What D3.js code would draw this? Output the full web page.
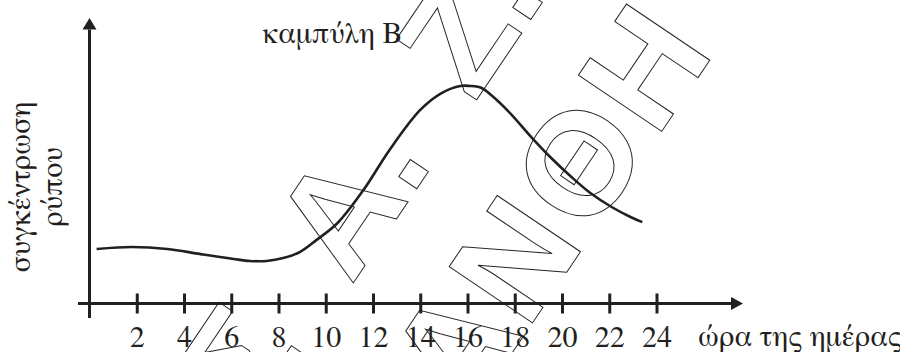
<!DOCTYPE html>
<html>
<head>
<meta charset="utf-8">
<script src="https://cdn.jsdelivr.net/npm/d3@7"></script>
<style>
    body { margin: 0; background: #fff; }
    svg { display: block; }
    .serif { font-family: FreeSerif, "Liberation Serif", "Times New Roman", serif; }
</style>
</head>
<body>
<svg id="chart"></svg>
<script>
const hours = [0.3, 1.8, 3.3, 4.7, 6.1, 6.8, 7.5, 8.2, 8.9, 9.6, 10.5, 11.6, 12.7, 14.0, 14.9, 15.7, 16.1, 16.6, 17.0, 17.8, 18.7, 19.5, 20.4, 21.2, 22.1, 22.9, 23.4];
const values = [1.91, 1.98, 1.91, 1.73, 1.56, 1.49, 1.49, 1.59, 1.80, 2.22, 2.82, 3.98, 5.38, 6.78, 7.37, 7.62, 7.62, 7.55, 7.30, 6.67, 5.83, 5.13, 4.43, 3.87, 3.38, 3.03, 2.85];
const tickHours = [2, 4, 6, 8, 10, 12, 14, 16, 18, 20, 22, 24];

const titleText = "καμπύλη Β";
const xLabel = "ώρα της ημέρας";
const yLabel = ["συγκέντρωση", "ρύπου"];

// watermark letters: [glyph, position along the line]
const markLine1 = [["Σ", -163], ["Α", 12], [".", 87], ["Ζ", 224], [".", 291]];
const markLine2 = [["Α", -35], ["Ν", 73], ["Θ", 189], ["Η", 304]];

const width = 900,
    height = 352;
const ink = "#231f20";

const svg = d3.select("#chart")
    .attr("width", width)
    .attr("height", height);

const x = d3.scaleLinear().domain([0, 24]).range([89.5, 656.5]);
const y = d3.scaleLinear().domain([0, 10]).range([303.5, 18]);

const data = hours.map((h, i) => ({hour: h, value: values[i]}));

//curve
const line = d3.line()
    .curve(d3.curveCatmullRom.alpha(0.5))
    .x(d => x(d.hour))
    .y(d => y(d.value));

svg.append("path")
    .datum(data)
    .attr("fill", "none")
    .attr("stroke", ink)
    .attr("stroke-width", 2.6)
    .attr("d", line);

//x axis with ticks crossing the line
const xAxis = svg.append("g")
    .attr("transform", "translate(0," + y(0) + ")")
    .call(d3.axisBottom(x).tickValues(tickHours).tickFormat(d => d).tickSize(10))
    .attr("font-family", null)
    .attr("font-size", null);

xAxis.select(".domain").remove();
xAxis.selectAll(".tick line")
    .attr("y1", -10)
    .attr("y2", 10)
    .attr("stroke", ink)
    .attr("stroke-width", 3);
xAxis.selectAll(".tick text")
    .attr("class", "serif")
    .attr("y", 43)
    .attr("dy", null)
    .attr("fill", ink)
    .style("font-size", "30px");

svg.append("line")
    .attr("x1", 78).attr("x2", 733)
    .attr("y1", y(0)).attr("y2", y(0))
    .attr("stroke", ink)
    .attr("stroke-width", 3);

svg.append("path")
    .attr("d", `M${743},${y(0)} L${731},${y(0) - 6.5} L${731},${y(0) + 6.5} Z`)
    .attr("fill", ink);

//y axis, no ticks
svg.append("line")
    .attr("x1", x(0)).attr("x2", x(0))
    .attr("y1", 318).attr("y2", y(9.6))
    .attr("stroke", ink)
    .attr("stroke-width", 3);

svg.append("path")
    .attr("d", `M${x(0)},${y(10)} L${x(0) - 7},${y(10) + 11.5} L${x(0) + 7},${y(10) + 11.5} Z`)
    .attr("fill", ink);

//texts
svg.append("text")
    .attr("class", "serif")
    .attr("x", 262)
    .attr("y", 43)
    .attr("fill", ink)
    .style("font-size", "30px")
    .text(titleText);

svg.append("text")
    .attr("class", "serif")
    .attr("x", 698)
    .attr("y", 346)
    .attr("fill", ink)
    .style("font-size", "30px")
    .text(xLabel);

svg.append("g")
    .selectAll("text")
    .data(yLabel)
    .join("text")
    .attr("class", "serif")
    .attr("transform", (d, i) => `translate(${30 + i * 32},187) rotate(-90)`)
    .attr("text-anchor", "middle")
    .attr("fill", ink)
    .style("font-size", "30px")
    .text(d => d);

//watermark, outlined letters on two slanted lines
const mark = svg.append("g")
    .attr("transform", "rotate(-56)")
    .attr("fill", "none")
    .attr("stroke", ink)
    .attr("stroke-width", 1)
    .style("font-family", "'Liberation Sans', Arial, sans-serif")
    .style("font-weight", "bold")
    .style("font-size", "146px");

[[markLine1, 451], [markLine2, 622]].forEach(([letters, base]) => {
    mark.append("g")
        .selectAll("text")
        .data(letters)
        .join("text")
        .attr("x", d => d[1])
        .attr("y", base)
        .attr("text-anchor", "middle")
        .text(d => d[0]);
});
</script>
</body>
</html>
